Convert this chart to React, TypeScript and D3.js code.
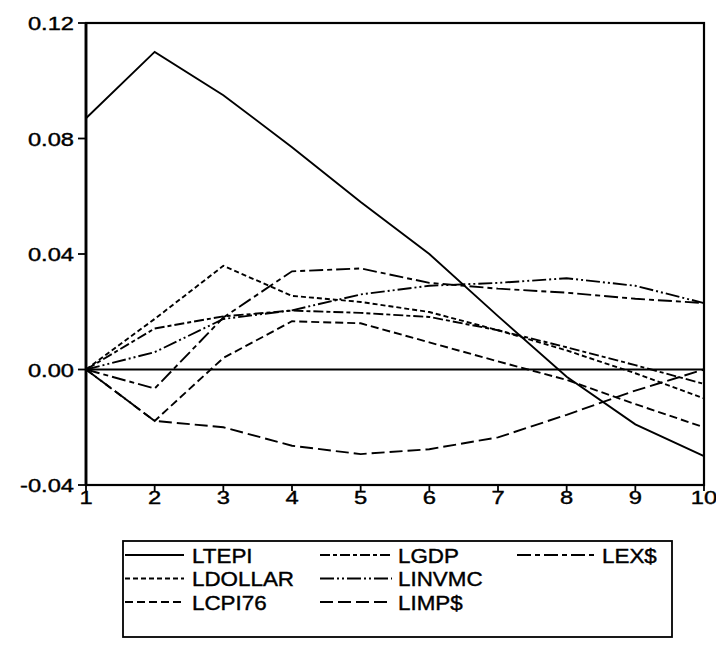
import React from "react";
import * as d3 from "d3";

const periods = [1, 2, 3, 4, 5, 6, 7, 8, 9, 10];
const yTicks = [-0.04, 0.0, 0.04, 0.08, 0.12];
const yTickLabels = ["-0.04", "0.00", "0.04", "0.08", "0.12"];

const seriesNames = ["LTEPI", "LDOLLAR", "LCPI76", "LGDP", "LINVMC", "LIMP$", "LEX$"];
const LTEPI = [0.087, 0.110, 0.095, 0.077, 0.058, 0.040, 0.0185, -0.0025, -0.019, -0.030];
const LDOLLAR = [0, 0.0175, 0.0359, 0.0255, 0.0234, 0.0199, 0.0136, 0.0066, -0.0013, -0.010];
const LEX = [0, -0.0066, 0.018, 0.034, 0.035, 0.030, 0.028, 0.0266, 0.0245, 0.023];
const LIMP = [0, -0.0178, -0.020, -0.0264, -0.0293, -0.0276, -0.0235, -0.0157, -0.0073, 0.0];
const LCPI76 = [0, -0.0178, 0.004, 0.0167, 0.016, 0.0094, 0.0028, -0.0036, -0.012, -0.020];
const LGDP = [0, 0.0142, 0.0184, 0.0204, 0.0196, 0.0182, 0.0136, 0.0077, 0.0015, -0.005];
const LINVMC = [0, 0.006, 0.0175, 0.0205, 0.026, 0.029, 0.030, 0.0316, 0.029, 0.023];

const dashes: Record<string, string> = {
  LTEPI: "none",
  LDOLLAR: "5,3",
  LCPI76: "8,4",
  LGDP: "10,3,4,3",
  LINVMC: "14,3,2,3,2,3",
  "LIMP$": "13,5",
  "LEX$": "14,4,5,4",
};

const dataMap: Record<string, number[]> = {
  LTEPI,
  LDOLLAR,
  LCPI76,
  LGDP,
  LINVMC,
  "LIMP$": LIMP,
  "LEX$": LEX,
};

const legendOrder = [
  ["LTEPI", 0, 0],
  ["LGDP", 1, 0],
  ["LEX$", 2, 0],
  ["LDOLLAR", 0, 1],
  ["LINVMC", 1, 1],
  ["LCPI76", 0, 2],
  ["LIMP$", 1, 2],
] as const;

const W = 716;
const H = 654;
const left = 86;
const right = 704;
const top = 23;
const bottom = 485;

const font = "'Liberation Sans', Arial, Helvetica, sans-serif";

export default function App() {
  const x = d3.scaleLinear().domain([1, 10]).range([left, right]);
  const y = d3.scaleLinear().domain([-0.04, 0.12]).range([bottom, top]);
  const line = d3
    .line<number>()
    .x((_, i) => x(periods[i]))
    .y((d) => y(d));

  const legCols = [
    { l0: 125, l1: 184, t: 192 },
    { l0: 320, l1: 392, t: 398 },
    { l0: 517, l1: 594, t: 602 },
  ];
  const legRows = [555, 578.5, 602];

  return (
    <svg width={W} height={H} style={{ position: "absolute", left: 0, top: 0, background: "#fff" }}>
      <rect x={0} y={0} width={W} height={H} fill="#fff" />
      <line x1={left} x2={right} y1={y(0)} y2={y(0)} stroke="#000" strokeWidth={1.8} />
      {seriesNames.map((n) => (
        <path
          key={n}
          d={line(dataMap[n]) || ""}
          fill="none"
          stroke="#000"
          strokeWidth={1.9}
          strokeDasharray={dashes[n]}
        />
      ))}
      <rect x={left} y={top} width={right - left} height={bottom - top} fill="none" stroke="#000" strokeWidth={2.2} />
      <line x1={left} x2={left} y1={top} y2={bottom} stroke="#000" strokeWidth={2.8} />
      {yTicks.map((t, i) => (
        <g key={"y" + i}>
          <line x1={left - 8} x2={left} y1={y(t)} y2={y(t)} stroke="#000" strokeWidth={1.8} />
          <text
            transform={`translate(${left - 12},${y(t) + 7}) scale(1.28,1)`}
            textAnchor="end"
            fontFamily={font}
            fontSize={18.5}
            fill="#000"
            stroke="#000"
            strokeWidth={0.4}
          >
            {yTickLabels[i]}
          </text>
        </g>
      ))}
      {periods.map((p) => (
        <g key={"x" + p}>
          <line x1={x(p)} x2={x(p)} y1={bottom} y2={bottom + 6} stroke="#000" strokeWidth={1.8} />
          <text
            transform={`translate(${x(p)},${bottom + 19}) scale(1.25,1)`}
            textAnchor="middle"
            fontFamily={font}
            fontSize={19}
            fill="#000"
            stroke="#000"
            strokeWidth={0.4}
          >
            {String(p)}
          </text>
        </g>
      ))}
      <rect x={123} y={541} width={549} height={96} fill="none" stroke="#000" strokeWidth={1.8} />
      {legendOrder.map(([n, c, r]) => {
        const col = legCols[c];
        const ry = legRows[r];
        return (
          <g key={"leg" + n}>
            <line
              x1={col.l0}
              x2={col.l1}
              y1={ry}
              y2={ry}
              stroke="#000"
              strokeWidth={1.9}
              strokeDasharray={dashes[n]}
            />
            <text
              transform={`translate(${col.t},${ry + 7.5}) scale(1.12,1)`}
              fontFamily={font}
              fontSize={20}
              fill="#000"
              stroke="#000"
              strokeWidth={0.4}
            >
              {n}
            </text>
          </g>
        );
      })}
    </svg>
  );
}
